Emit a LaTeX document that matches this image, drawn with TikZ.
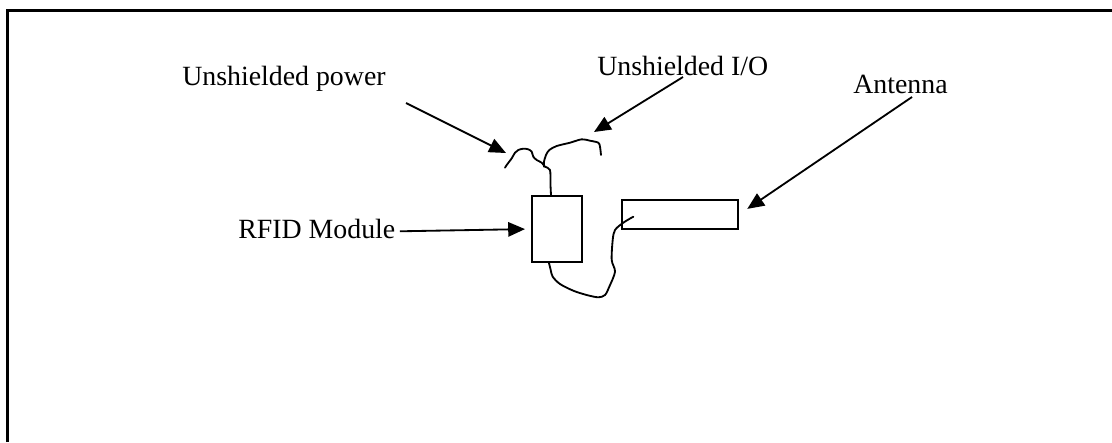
\documentclass[tikz,border=0pt]{standalone}
\usepackage{fontspec}
\setmainfont{Liberation Serif}
\usetikzlibrary{arrows.meta}

\tikzset{
  lbl/.style={anchor=base west, inner sep=0pt, font=\fontsize{19.8}{24}\selectfont},
  pointer/.style={line width=1.3pt, -{Triangle[length=0.42cm,width=0.36cm]}},
  box/.style={draw, line width=1.4pt, inner sep=0pt},
  wire/.style={line width=1.3pt, line cap=round, line join=round}
}

\begin{document}
\begin{tikzpicture}[x=0.025cm,y=-0.025cm]
\useasboundingbox (0,0) rectangle (1112,442);
% frame
\draw[line width=1.5pt] (7.5,442) -- (7.5,10.5) -- (1112,10.5);

% module and antenna
\node[box, minimum width=1.25cm, minimum height=1.65cm] (module) at (557,229) {};
\node[box, minimum width=2.9cm, minimum height=0.725cm] (antenna) at (680,214.5) {};

% labels
\node[lbl] (pwrlbl) at (182,85) {Unshielded power};
\node[lbl] (iolbl) at (597,75) {Unshielded I/O};
\node[lbl] (antlbl) at (853,93) {Antenna};
\node[lbl] (rfidlbl) at (238,238) {RFID Module};

% free ends
\coordinate (pwrtail) at (406,103);
\coordinate (pwrtip) at (506,153);
\coordinate (iotail) at (683,77);
\coordinate (iotip) at (594,132);
\coordinate (anttail) at (912,97);
\coordinate (modtop) at ([xshift=-0.15cm]module.north);
\coordinate (modbot) at ([xshift=-0.2cm]module.south);

% pointers
\draw[pointer] (pwrtail) -- (pwrtip);
\draw[pointer] (iotail) -- (iotip);
\draw[pointer, shorten >=0.25cm] (anttail) -- (antenna.east);
\draw[pointer, shorten >=0.15cm] ([xshift=3pt,yshift=-2pt]rfidlbl.east) -- (module.west);

% wires
\draw[wire] plot[smooth] coordinates {(modtop) (550.5,185) (550,170) (545,166.7) (541.7,162.7) (536.7,160) (533.3,156.7) (531.7,151.7) (528.3,149.3) (523.3,148.7) (518.3,150) (515,152.7) (511.7,158.3) (506.7,165) (505,167.7)};
\draw[wire] plot[smooth] coordinates {(544,166.7) (544,161.7) (546,155) (549.3,150) (556.7,146) (570,142.7) (581.7,139.3) (590,140.7) (598.3,142.7) (600,146.7) (601,155)};
\draw[wire] plot[smooth] coordinates {(modbot) (550.7,270) (552.7,276.7) (560,284) (573.3,290.7) (586.7,295) (598.3,297.3) (605,295) (609.3,286.7) (615,271.7) (611.7,260) (612.7,240) (615,230) (623.3,222.7) (633.3,216.7)};
\end{tikzpicture}
\end{document}
